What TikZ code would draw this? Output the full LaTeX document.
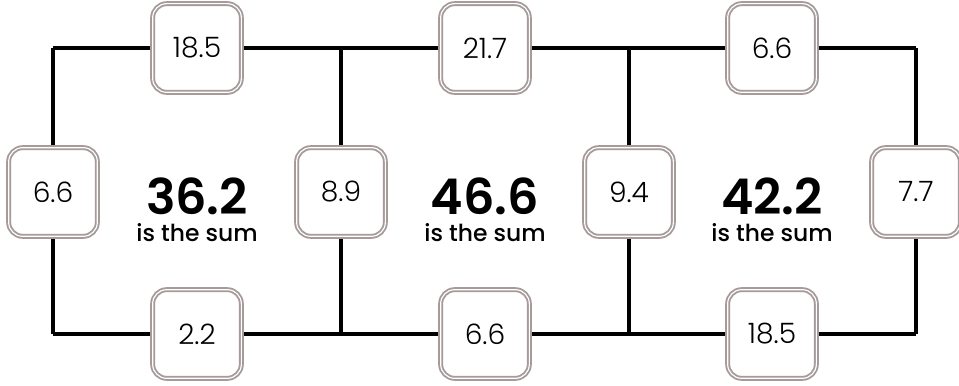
\documentclass[tikz,border=0pt]{standalone}
\usepackage{fontspec}
\setmainfont{Poppins}
\newfontfamily\lightfont{Poppins Light}
\newfontfamily\semifont{Poppins SemiBold}
\newfontfamily\medfont{Poppins Medium}
\usetikzlibrary{positioning}
\definecolor{boxgray}{RGB}{166,154,154}

\begin{document}
\begin{tikzpicture}[x=0.3mm, y=0.3mm,
    valbox/.style={draw=boxgray, double=white, double distance=1pt, line width=1.6pt,
      fill=white, rounded corners=12pt, minimum size=26.6mm, inner sep=0pt,
      font=\lightfont\fontsize{24}{24}\selectfont},
    sumval/.style={font=\semifont\fontsize{42}{42}\selectfont, inner sep=0pt,
      text height=30pt, text depth=0pt, anchor=base},
    sumtxt/.style={font=\medfont\fontsize{20}{20}\selectfont, inner sep=0pt,
      text height=14pt, text depth=0pt, anchor=base}]
  \useasboundingbox (0,0) rectangle (959,385);
  % grid corners
  \coordinate (A1) at (53,337);
  \coordinate (A2) at (341,337);
  \coordinate (A3) at (629,337);
  \coordinate (A4) at (916,337);
  \coordinate (B1) at (53,51);
  \coordinate (B2) at (341,51);
  \coordinate (B3) at (629,51);
  \coordinate (B4) at (916,51);
  \draw[line width=2.7pt] (A1) -- (A4) (B1) -- (B4);
  \foreach \i in {1,...,4}
    \draw[line width=2.7pt] (A\i) -- (B\i);
  % top and bottom values
  \node[valbox] (t1) at (197,337) {18.5};
  \node[valbox] (t2) at (485,337) {21.7};
  \node[valbox] (t3) at (772,337) {6.6};
  \node[valbox] (b1) at (197,51) {2.2};
  \node[valbox] (b2) at (485,51) {6.6};
  \node[valbox] (b3) at (772,51) {18.5};
  % side values
  \node[valbox] (s1) at (53,193) {6.6};
  \node[valbox] (s2) at (341,193) {8.9};
  \node[valbox] (s3) at (629,193) {9.4};
  \node[valbox] (s4) at (916,193) {7.7};
  % sums
  \node[sumval] (m1) at (197,170) {36.2};
  \node[sumval] (m2) at (485,170) {46.6};
  \node[sumval] (m3) at (772,170) {42.2};
  \node[sumtxt] (l1) at (197,143) {is the sum};
  \node[sumtxt] (l2) at (485,143) {is the sum};
  \node[sumtxt] (l3) at (772,143) {is the sum};
\end{tikzpicture}
\end{document}
